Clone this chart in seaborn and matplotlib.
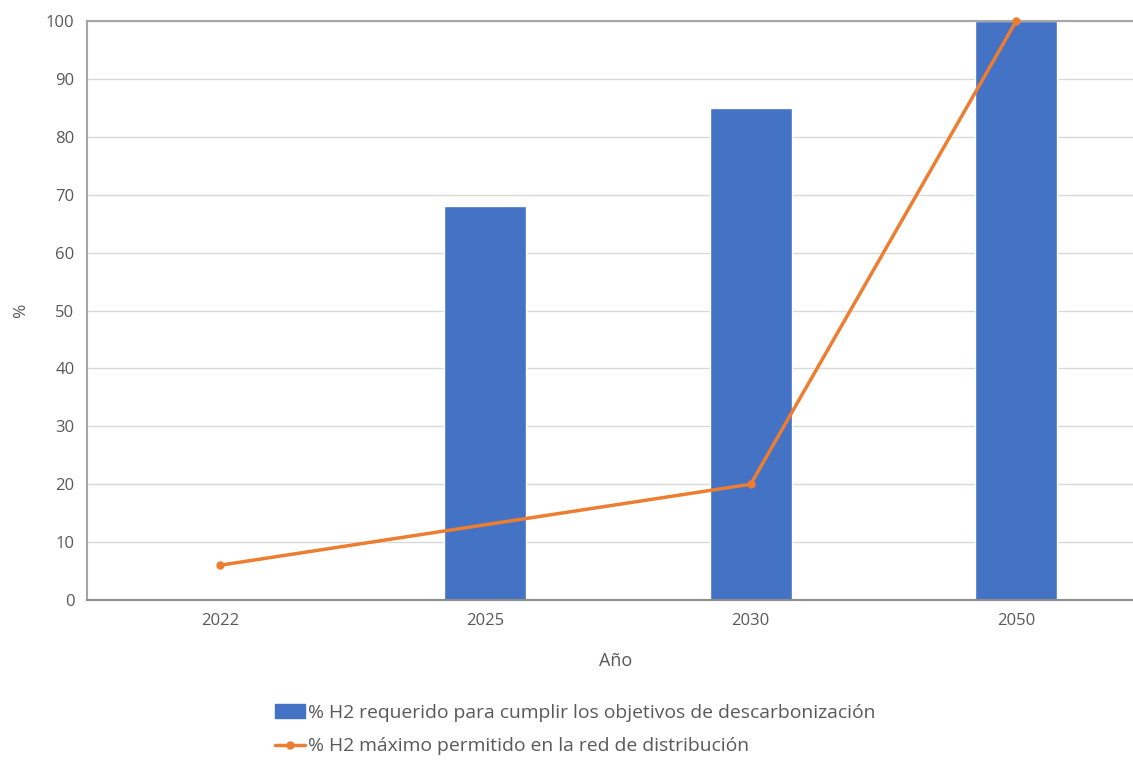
import matplotlib
matplotlib.use("Agg")
import matplotlib.pyplot as plt
import pandas as pd
import seaborn as sns
from matplotlib.lines import Line2D
from matplotlib.patches import Patch

years = ["2022", "2025", "2030", "2050"]
required = [0, 68, 85, 100]
line_years = ["2022", "2030", "2050"]
allowed = [6, 20, 100]

bar_label = "% H2 requerido para cumplir los objetivos de descarbonización"
line_label = "% H2 máximo permitido en la red de distribución"

BLUE = "#4472C4"
ORANGE = "#ED7D31"
GREY_TXT = "#595959"
GRID = "#D9D9D9"

sns.set_style("white")
plt.rcParams["font.family"] = ["Open Sans", "DejaVu Sans"]

df = pd.DataFrame({"year": years, "value": required})

fig = plt.figure(figsize=(11.33, 7.6), dpi=100)
ax = fig.add_axes([0.0768, 0.2105, 0.9232, 0.7618])

sns.barplot(data=df, x="year", y="value", color=BLUE, width=0.31,
            saturation=1, ax=ax, zorder=2)

line_pos = [years.index(y) for y in line_years]
ax.plot(line_pos, allowed, color=ORANGE, lw=2.5, marker="o", ms=5, zorder=3,
        clip_on=False)

ax.set_ylim(0, 100)
ax.set_yticks(range(0, 101, 10))
ax.set_xlim(-0.5, 3.44)
ax.yaxis.grid(True, color=GRID, lw=1)
ax.set_axisbelow(True)

for side in ["left", "bottom", "top"]:
    ax.spines[side].set_visible(True)
    ax.spines[side].set_color("#A6A6A6")
    ax.spines[side].set_linewidth(1.5)
ax.spines["right"].set_visible(False)
ax.spines["bottom"].set_color("#8C8C8C")

ax.tick_params(axis="both", length=0, labelsize=12, colors=GREY_TXT, pad=9)
ax.set_xlabel("Año", fontsize=13, color=GREY_TXT)
ax.set_ylabel("%", fontsize=12.5, color=GREY_TXT)
ax.xaxis.set_label_coords(0.505, -0.09)
ax.yaxis.set_label_coords(-0.055, 0.5)

handles = [
    Patch(facecolor=BLUE, edgecolor=BLUE, label=bar_label),
    Line2D([0], [0], color=ORANGE, lw=2.5, marker="o", ms=5, label=line_label),
]
leg = fig.legend(handles=handles, loc="upper left", bbox_to_anchor=(0.236, 0.084),
                 frameon=False, fontsize=13.9, handlelength=1.55, handletextpad=0.15,
                 labelspacing=0.8, borderaxespad=0)
for t in leg.get_texts():
    t.set_color(GREY_TXT)

fig.savefig("out.png", dpi=100)
